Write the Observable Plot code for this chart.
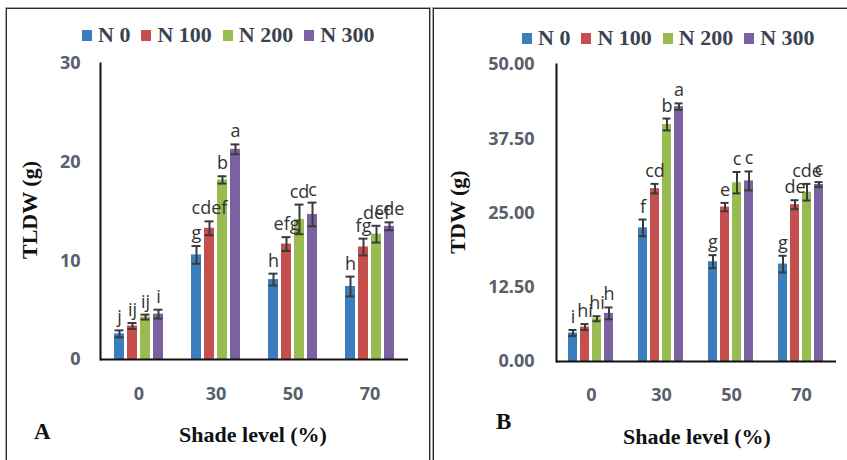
<!DOCTYPE html>
<html>
<head>
<meta charset="utf-8">
<script src="https://cdn.jsdelivr.net/npm/d3@7"></script>
<script src="https://cdn.jsdelivr.net/npm/@observablehq/plot@0.6"></script>
<style>
  html, body { margin: 0; padding: 0; background: #fff; }
  #root { position: relative; width: 847px; height: 460px; overflow: hidden; background: #fff; }
  .panel { position: absolute; box-sizing: border-box; border: 1px solid #2a2a2a; box-shadow: 0 0 0 1px #a8a8a8; }
  .chart { position: absolute; top: 0; }
  .legend { position: absolute; display: flex; align-items: center; gap: 11px;
            font: bold 22px "Liberation Serif", "Times New Roman", serif; color: #3b4350; white-space: nowrap; }
  .legend .item { display: flex; align-items: center; gap: 6px; }
  .legend .sw { width: 10px; height: 11px; display: inline-block; }
  .title { position: absolute; font: bold 22px "Liberation Serif", "Times New Roman", serif; color: #111;
           white-space: nowrap; line-height: 1; transform: translate(-50%, -50%); }
  .ytitle { transform: translate(-50%, -50%) rotate(-90deg); }
  .tag { position: absolute; font: bold 23px "Liberation Serif", "Times New Roman", serif; color: #111;
         line-height: 1; transform: translate(0, -50%); }
</style>
</head>
<body>
<div id="root">
  <div class="panel" style="left:6px; top:8px; width:424px; height:470px;"></div>
  <div class="panel" style="left:433px; top:8px; width:430px; height:470px;"></div>
  <div id="legendA" class="legend" style="left:82px; top:35px; transform: translateY(-50%);"></div>
  <div id="legendB" class="legend" style="left:522px; top:38px; transform: translateY(-50%);"></div>
  <div id="chartA" class="chart" style="left:0px;"></div>
  <div id="chartB" class="chart" style="left:430px;"></div>
  <div class="title ytitle" style="left:30px; top:210px;">TLDW (g)</div>
  <div class="title ytitle" style="left:458px; top:212px;">TDW (g)</div>
  <div class="title" style="left:253px; top:435px;">Shade level (%)</div>
  <div class="title" style="left:697px; top:437px;">Shade level (%)</div>
  <div class="tag" style="left:34px; top:431px;">A</div>
  <div class="tag" style="left:496px; top:421px;">B</div>
</div>
<script>
// ---- categories ----
const shades = ["0", "30", "50", "70"];
const levels = ["N 0", "N 100", "N 200", "N 300"];
const colors = ["#3c7dbd", "#c44f4c", "#98bb52", "#7a62a0"];

// ---- Panel A: TLDW (g) ----
const tldwN0   = [2.6, 10.6, 8.1, 7.4];
const tldwN100 = [3.4, 13.3, 11.7, 11.4];
const tldwN200 = [4.3, 18.2, 14.2, 12.7];
const tldwN300 = [4.6, 21.3, 14.7, 13.5];
const tldwErrN0   = [0.35, 0.9, 0.6, 1.0];
const tldwErrN100 = [0.3, 0.7, 0.7, 0.85];
const tldwErrN200 = [0.25, 0.37, 1.5, 0.85];
const tldwErrN300 = [0.45, 0.5, 1.2, 0.4];
const tldwLetN0   = ["j", "g", "h", "h"];
const tldwLetN100 = ["ij", "cdef", "efg", "fg"];
const tldwLetN200 = ["ij", "b", "cd", "def"];
const tldwLetN300 = ["i", "a", "c", "cde"];
const tldwTicks = [0, 10, 20, 30];

// ---- Panel B: TDW (g) ----
const tdwN0   = [4.8, 22.5, 16.8, 16.4];
const tdwN100 = [5.8, 29.1, 26.0, 26.4];
const tdwN200 = [7.2, 39.9, 30.1, 28.5];
const tdwN300 = [8.1, 42.9, 30.4, 29.8];
const tdwErrN0   = [0.5, 1.4, 1.1, 1.4];
const tdwErrN100 = [0.5, 0.8, 0.7, 0.75];
const tdwErrN200 = [0.42, 1.0, 1.8, 1.4];
const tdwErrN300 = [1.0, 0.55, 1.6, 0.4];
const tdwLetN0   = ["i", "f", "g", "g"];
const tdwLetN100 = ["hi", "cd", "e", "de"];
const tdwLetN200 = ["hi", "b", "c", "cde"];
const tdwLetN300 = ["h", "a", "c", "c"];
const tdwTicks = [0, 12.5, 25, 37.5, 50];

function rows(vals, errs, lets) {
  const out = [];
  shades.forEach((s, i) => {
    levels.forEach((l, j) => {
      out.push({shade: s, level: l, value: vals[j][i], err: errs[j][i], letter: lets[j][i]});
    });
  });
  return out;
}

const tickFont = {fontSize: 18, fontWeight: "bold", fontFamily: "'Open Sans', sans-serif", color: "#58606b"};

function panel(data, o) {
  const ebar = "#3a3a3a";
  return Plot.plot({
    width: o.width, height: 460,
    marginLeft: o.ml, marginRight: o.mr, marginTop: o.mt, marginBottom: o.mb,
    style: {background: "transparent", overflow: "visible"},
    fx: {domain: shades, padding: 0},
    x: {domain: levels, paddingInner: o.pi, paddingOuter: o.po, axis: null},
    y: {domain: o.yDomain},
    color: {domain: levels, range: colors},
    marks: [
      Plot.axisY({ticks: o.ticks, tickFormat: o.fmt, tickSize: 0, tickPadding: o.ytp, label: null, ...tickFont}),
      Plot.axisFx({anchor: "bottom", tickSize: 0, tickPadding: o.xtp, label: null, ...tickFont}),
      Plot.barY(data, {fx: "shade", x: "level", y: "value", fill: "level"}),
      Plot.ruleX(data, {fx: "shade", x: "level", y1: d => d.value - d.err, y2: d => d.value + d.err, stroke: ebar, strokeWidth: 2}),
      Plot.tickY(data, {fx: "shade", x: "level", y: d => d.value + d.err, stroke: ebar, strokeWidth: 2, insetLeft: 0.5, insetRight: 0.5}),
      Plot.tickY(data, {fx: "shade", x: "level", y: d => d.value - d.err, stroke: ebar, strokeWidth: 2, insetLeft: 0.5, insetRight: 0.5}),
      Plot.text(data, {fx: "shade", x: "level", y: d => d.value + d.err, text: "letter", lineAnchor: "bottom", dy: -7,
                       fontSize: 18, fontFamily: "'Open Sans', sans-serif", fill: "#333"}),
      Plot.ruleY([0], {stroke: "#111", strokeWidth: 2}),
      Plot.frame({anchor: "left", facetAnchor: "left", stroke: "#111", strokeWidth: 2})
    ]
  });
}

const dataA = rows([tldwN0, tldwN100, tldwN200, tldwN300],
                   [tldwErrN0, tldwErrN100, tldwErrN200, tldwErrN300],
                   [tldwLetN0, tldwLetN100, tldwLetN200, tldwLetN300]);
const dataB = rows([tdwN0, tdwN100, tdwN200, tdwN300],
                   [tdwErrN0, tdwErrN100, tdwErrN200, tdwErrN300],
                   [tdwLetN0, tdwLetN100, tdwLetN200, tdwLetN300]);

document.getElementById("chartA").append(panel(dataA, {
  width: 430, ml: 99, mr: 22, mt: 63, mb: 101, pi: 0.2, po: 0.88,
  yDomain: [0, 30], ticks: tldwTicks, fmt: d3.format("d"), ytp: 20, xtp: 28
}));
document.getElementById("chartB").append(panel(dataB, {
  width: 417, ml: 125, mr: 10, mt: 64, mb: 99, pi: 0.23, po: 0.91,
  yDomain: [0, 50], ticks: tdwTicks, fmt: d3.format(".2f"), ytp: 22, xtp: 27
}));

function legend(id) {
  const el = document.getElementById(id);
  levels.forEach((l, i) => {
    const item = document.createElement("div");
    item.className = "item";
    const sw = document.createElement("span");
    sw.className = "sw";
    sw.style.background = colors[i];
    const t = document.createElement("span");
    t.textContent = l;
    item.append(sw, t);
    el.append(item);
  });
}
legend("legendA");
legend("legendB");
</script>
</body>
</html>
